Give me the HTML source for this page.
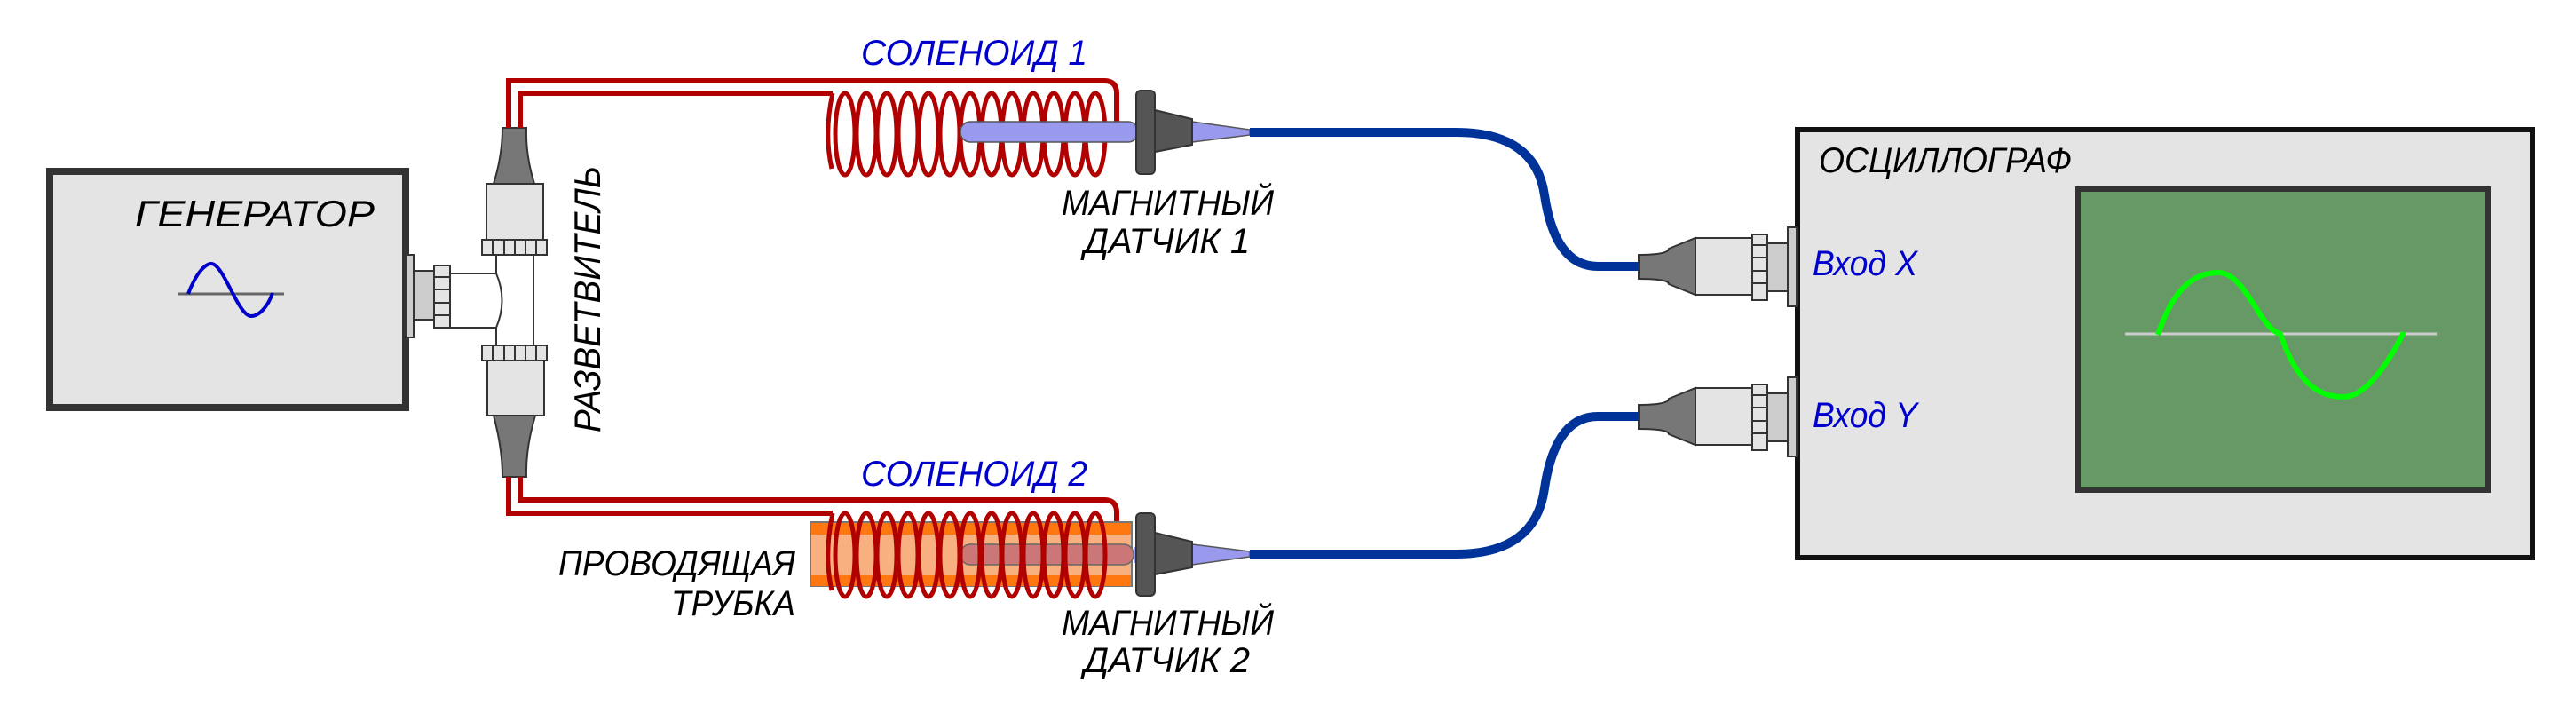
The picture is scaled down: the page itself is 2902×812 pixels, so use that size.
<!DOCTYPE html>
<html><head><meta charset="utf-8"><style>
html,body{margin:0;padding:0;background:#fff}
svg{display:block}
text{font-family:"Liberation Sans Narrow","Liberation Sans",sans-serif;font-style:italic}
</style></head><body>
<svg width="2902" height="812" viewBox="0 0 2902 812" xmlns="http://www.w3.org/2000/svg">
<rect x="0" y="0" width="2902" height="812" fill="#fff"/>
<!-- generator -->
<rect x="56" y="193" width="401" height="266" fill="#e4e4e4" stroke="#333" stroke-width="8"/>
<text x="152" y="255" font-size="42" textLength="270" lengthAdjust="spacingAndGlyphs" fill="#000">ГЕНЕРАТОР</text>
<line x1="200" y1="331" x2="320" y2="331" stroke="#666" stroke-width="3"/>
<path d="M212 331 C222 305 232 297 238 297 C252 297 268 356 283 356 C292 356 302 345 307 330" fill="none" stroke="#0000cc" stroke-width="4"/>
<!-- gen connector -->
<rect x="458" y="287" width="8" height="93" fill="#ccc" stroke="#333" stroke-width="2"/>
<rect x="466" y="305" width="24" height="55" fill="#ccc" stroke="#333" stroke-width="2"/>
<rect x="489" y="299" width="18" height="70" fill="#e4e4e4" stroke="#333" stroke-width="2"/>
<line x1="489" y1="312" x2="507" y2="312" stroke="#333" stroke-width="2"/>
<line x1="489" y1="326" x2="507" y2="326" stroke="#333" stroke-width="2"/>
<line x1="489" y1="341" x2="507" y2="341" stroke="#333" stroke-width="2"/>
<line x1="489" y1="355" x2="507" y2="355" stroke="#333" stroke-width="2"/>
<!-- splitter -->
<line x1="559" y1="287" x2="559" y2="389" stroke="#333" stroke-width="2"/>
<line x1="601" y1="287" x2="601" y2="389" stroke="#333" stroke-width="2"/>
<path d="M507 308 L559 308 Q572 338 559 369 L507 369 Z" fill="#fff" stroke="#333" stroke-width="2"/>
<path d="M572 144 L585 144 L593 144 Q592 175 602 207 L556 207 Q566 175 566 144 Z" fill="#777" stroke="#333" stroke-width="2"/>
<rect x="548" y="207" width="64" height="63" fill="#e4e4e4" stroke="#333" stroke-width="2"/>
<rect x="543" y="270" width="73" height="17" fill="#e4e4e4" stroke="#333" stroke-width="2"/>
<g stroke="#333" stroke-width="2"><line x1="555" y1="270" x2="555" y2="287"/><line x1="568" y1="270" x2="568" y2="287"/><line x1="580" y1="270" x2="580" y2="287"/><line x1="592" y1="270" x2="592" y2="287"/><line x1="604" y1="270" x2="604" y2="287"/></g>
<rect x="543" y="389" width="73" height="17" fill="#e4e4e4" stroke="#333" stroke-width="2"/>
<g stroke="#333" stroke-width="2"><line x1="555" y1="389" x2="555" y2="406"/><line x1="568" y1="389" x2="568" y2="406"/><line x1="580" y1="389" x2="580" y2="406"/><line x1="592" y1="389" x2="592" y2="406"/><line x1="604" y1="389" x2="604" y2="406"/></g>
<rect x="549" y="406" width="64" height="62" fill="#e4e4e4" stroke="#333" stroke-width="2"/>
<path d="M556 468 L603 468 Q592 505 593 537 L566 537 Q566 505 556 468 Z" fill="#777" stroke="#333" stroke-width="2"/>
<text transform="translate(676,487) rotate(-90)" font-size="42" textLength="300" lengthAdjust="spacingAndGlyphs" fill="#000">РАЗВЕТВИТЕЛЬ</text>
<!-- wires top -->
<g fill="none" stroke="#b00000" stroke-width="6">
<path d="M573 144 L573 91 L1244 91 Q1258 91 1258 105 L1258 150"/>
<path d="M586 144 L586 105 L938 105"/>
<path d="M573 537 L573 578 L938 578"/>
<path d="M586 537 L586 563 L1244 563 Q1258 563 1258 577 L1258 620"/>
</g>
<!-- coil 1 -->
<g fill="none" stroke="#b00000" stroke-width="5">
<path d="M938 105 Q928 150 937 190"/>
<ellipse cx="952" cy="151" rx="11" ry="46"/><ellipse cx="976" cy="151" rx="11" ry="46"/><ellipse cx="999" cy="151" rx="11" ry="46"/><ellipse cx="1023" cy="151" rx="11" ry="46"/><ellipse cx="1046" cy="151" rx="11" ry="46"/><ellipse cx="1070" cy="151" rx="11" ry="46"/><ellipse cx="1093" cy="151" rx="11" ry="46"/><ellipse cx="1117" cy="151" rx="11" ry="46"/><ellipse cx="1140" cy="151" rx="11" ry="46"/><ellipse cx="1164" cy="151" rx="11" ry="46"/><ellipse cx="1187" cy="151" rx="11" ry="46"/><ellipse cx="1211" cy="151" rx="11" ry="46"/><ellipse cx="1234" cy="151" rx="11" ry="46"/>
</g>
<rect x="1082" y="137" width="200" height="23" rx="11" fill="#9999ee" stroke="#555" stroke-width="1.5"/>
<text x="970" y="73" font-size="40" textLength="255" lengthAdjust="spacingAndGlyphs" fill="#0000cc">СОЛЕНОИД  1</text>
<!-- probe 1 -->
<path d="M1343 137 L1408 146 L1408 152 L1343 160 Z" fill="#9999ee" stroke="#555" stroke-width="1.5"/>
<path d="M1301 124 L1343 134 L1343 163 L1301 171 Z" fill="#555" stroke="#333" stroke-width="2"/>
<rect x="1280" y="102" width="21" height="94" rx="5" fill="#555" stroke="#333" stroke-width="2"/>
<path d="M1408 149 L1640 149 Q1730 149 1740 220 Q1752 300 1800 300 L1848 300" fill="none" stroke="#003399" stroke-width="10"/>
<text x="1196" y="242" font-size="40" textLength="239" lengthAdjust="spacingAndGlyphs" fill="#000">МАГНИТНЫЙ</text>
<text x="1221" y="285" font-size="40" textLength="187" lengthAdjust="spacingAndGlyphs" fill="#000">ДАТЧИК  1</text>
<!-- tube -->
<rect x="913" y="588" width="362" height="72" fill="#f8b080" stroke="#777" stroke-width="2"/>
<rect x="914" y="589" width="360" height="13" fill="#ff7711"/>
<rect x="914" y="648" width="360" height="12" fill="#ff7711"/>
<rect x="1082" y="613" width="195" height="23" rx="11" fill="#cc7777" stroke="#666" stroke-width="1.5"/>
<g fill="none" stroke="#b00000" stroke-width="5">
<path d="M938 578 Q928 625 937 665"/>
<ellipse cx="952" cy="625" rx="11" ry="47"/><ellipse cx="976" cy="625" rx="11" ry="47"/><ellipse cx="999" cy="625" rx="11" ry="47"/><ellipse cx="1023" cy="625" rx="11" ry="47"/><ellipse cx="1046" cy="625" rx="11" ry="47"/><ellipse cx="1070" cy="625" rx="11" ry="47"/><ellipse cx="1093" cy="625" rx="11" ry="47"/><ellipse cx="1117" cy="625" rx="11" ry="47"/><ellipse cx="1140" cy="625" rx="11" ry="47"/><ellipse cx="1164" cy="625" rx="11" ry="47"/><ellipse cx="1187" cy="625" rx="11" ry="47"/><ellipse cx="1211" cy="625" rx="11" ry="47"/><ellipse cx="1234" cy="625" rx="11" ry="47"/>
</g>
<text x="970" y="547" font-size="40" textLength="255" lengthAdjust="spacingAndGlyphs" fill="#0000cc">СОЛЕНОИД  2</text>
<text x="896" y="648" font-size="40" text-anchor="end" textLength="267" lengthAdjust="spacingAndGlyphs" fill="#000">ПРОВОДЯЩАЯ</text>
<text x="896" y="693" font-size="40" text-anchor="end" textLength="140" lengthAdjust="spacingAndGlyphs" fill="#000">ТРУБКА</text>
<!-- probe 2 -->
<path d="M1343 613 L1408 621 L1408 627 L1343 636 Z" fill="#9999ee" stroke="#555" stroke-width="1.5"/>
<path d="M1277 616 L1301 616 L1301 634 L1277 634 Z" fill="#9999ee"/>
<path d="M1301 600 L1343 610 L1343 639 L1301 647 Z" fill="#555" stroke="#333" stroke-width="2"/>
<rect x="1280" y="578" width="21" height="93" rx="5" fill="#555" stroke="#333" stroke-width="2"/>
<path d="M1408 624 L1640 624 Q1730 624 1740 550 Q1752 469 1800 469 L1848 469" fill="none" stroke="#003399" stroke-width="10"/>
<text x="1196" y="715" font-size="40" textLength="239" lengthAdjust="spacingAndGlyphs" fill="#000">МАГНИТНЫЙ</text>
<text x="1221" y="757" font-size="40" textLength="187" lengthAdjust="spacingAndGlyphs" fill="#000">ДАТЧИК  2</text>
<!-- oscilloscope -->
<rect x="2025" y="146" width="828" height="482" fill="#e4e4e4" stroke="#111" stroke-width="6"/>
<text x="2049" y="194" font-size="40" textLength="285" lengthAdjust="spacingAndGlyphs" fill="#000">ОСЦИЛЛОГРАФ</text>
<rect x="2341" y="213" width="462" height="339" fill="#669966" stroke="#333" stroke-width="6"/>
<line x1="2394" y1="376" x2="2745" y2="376" stroke="#ccc" stroke-width="3"/>
<path d="M2431 377 C2450 320 2475 307 2499 307 C2530 307 2545 370 2569 376 C2590 440 2620 447 2640 447 C2665 447 2690 410 2708 374" fill="none" stroke="#00ff00" stroke-width="6"/>
<text x="2042" y="310" font-size="40" textLength="118" lengthAdjust="spacingAndGlyphs" fill="#0000cc">Вход X</text>
<text x="2042" y="481" font-size="40" textLength="118" lengthAdjust="spacingAndGlyphs" fill="#0000cc">Вход Y</text>
<!-- scope connectors -->
<g id="cx">
<rect x="2014" y="256" width="10" height="89" fill="#ccc" stroke="#333" stroke-width="2"/>
<rect x="1991" y="274" width="23" height="54" fill="#ccc" stroke="#333" stroke-width="2"/>
<path d="M1846 287 Q1880 287 1880 280 L1910 268 L1910 332 L1880 320 Q1880 314 1846 314 Z" fill="#777" stroke="#333" stroke-width="2"/>
<rect x="1910" y="268" width="64" height="64" fill="#e4e4e4" stroke="#333" stroke-width="2"/>
<rect x="1974" y="264" width="17" height="74" fill="#e4e4e4" stroke="#333" stroke-width="2"/>
<g stroke="#333" stroke-width="2"><line x1="1974" y1="276" x2="1991" y2="276"/><line x1="1974" y1="290" x2="1991" y2="290"/><line x1="1974" y1="305" x2="1991" y2="305"/><line x1="1974" y1="319" x2="1991" y2="319"/></g>
</g>
<g transform="translate(0,169)">
<rect x="2014" y="256" width="10" height="89" fill="#ccc" stroke="#333" stroke-width="2"/>
<rect x="1991" y="274" width="23" height="54" fill="#ccc" stroke="#333" stroke-width="2"/>
<path d="M1846 287 Q1880 287 1880 280 L1910 268 L1910 332 L1880 320 Q1880 314 1846 314 Z" fill="#777" stroke="#333" stroke-width="2"/>
<rect x="1910" y="268" width="64" height="64" fill="#e4e4e4" stroke="#333" stroke-width="2"/>
<rect x="1974" y="264" width="17" height="74" fill="#e4e4e4" stroke="#333" stroke-width="2"/>
<g stroke="#333" stroke-width="2"><line x1="1974" y1="276" x2="1991" y2="276"/><line x1="1974" y1="290" x2="1991" y2="290"/><line x1="1974" y1="305" x2="1991" y2="305"/><line x1="1974" y1="319" x2="1991" y2="319"/></g>
</g>
</svg>
</body></html>
